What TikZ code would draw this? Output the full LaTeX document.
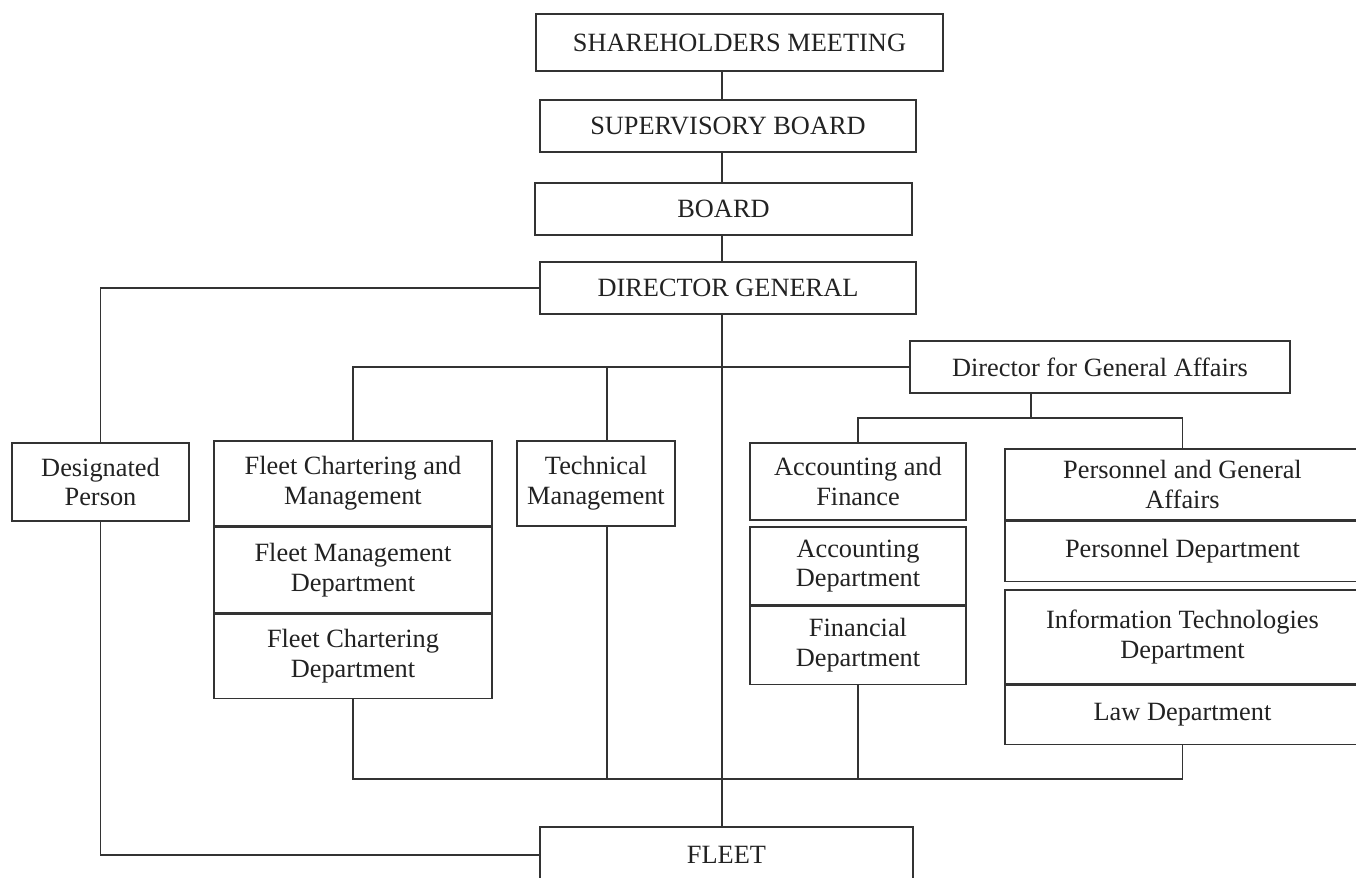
\documentclass[tikz,border=0pt]{standalone}
\usepackage{fontspec}
\setmainfont{Liberation Serif}
\usepackage{tikz}
\usetikzlibrary{positioning, calc}

\definecolor{linegray}{HTML}{333333}
\definecolor{textgray}{HTML}{222222}

\begin{document}
\begin{tikzpicture}[
        x=0.02cm, y=-0.02cm,
        node distance=0pt,
        orgbox/.style={rectangle, draw=linegray, line width=0.8pt, fill=white, text=textgray,
            align=center, inner sep=0pt, font=\fontsize{15}{17}\selectfont},
        link/.style={draw=linegray, line width=0.8pt}
    ]

        \path[use as bounding box, clip] (0,0) rectangle (1356,877);

        % Spine and bus rows
        \coordinate (spine) at (722,0);
        \coordinate (gabus) at (1031,418);
        \coordinate (lowbus) at (0,779);
        \coordinate (techtap) at (607,367);

        % Top of the chart
        \node[orgbox, minimum width=8.14cm, minimum height=1.14cm] (share) at (739.5,42.5) {SHAREHOLDERS MEETING};
        \node[orgbox, minimum width=7.52cm, minimum height=1.04cm] (superv) at (728,126) {SUPERVISORY BOARD};
        \node[orgbox, minimum width=7.54cm, minimum height=1.04cm] (board) at (723.5,209) {BOARD};
        \node[orgbox, minimum width=7.52cm, minimum height=1.04cm] (dg) at (728,288) {DIRECTOR GENERAL};

        % Designated person
        \node[orgbox, minimum width=3.54cm, minimum height=1.56cm] (desig) at (100.5,482) {Designated\\Person};

        % Fleet chartering and management
        \node[orgbox, minimum width=5.56cm, minimum height=1.7cm] (fcm) at (353,483.5) {Fleet Chartering and\\Management};
        \node[orgbox, minimum width=5.56cm, minimum height=1.7cm, below=of fcm] (fmd) {Fleet Management\\Department};
        \node[orgbox, minimum width=5.56cm, minimum height=1.7cm, below=of fmd] (fcd) {Fleet Chartering\\Department};

        % Technical management
        \node[orgbox, minimum width=3.16cm, minimum height=1.7cm] (tech) at (596,483.5) {Technical\\Management};

        % Director for general affairs
        \node[orgbox, minimum width=7.6cm, minimum height=1.04cm] (dga) at (1100,367) {Director for General Affairs};

        % Accounting and finance
        \node[orgbox, minimum width=4.32cm, minimum height=1.54cm] (af) at (858,481.5) {Accounting and\\Finance};
        \node[orgbox, minimum width=4.32cm, minimum height=1.56cm] (accd) at (858,566) {Accounting\\Department};
        \node[orgbox, minimum width=4.32cm, minimum height=1.56cm, below=of accd] (find) {Financial\\Department};

        % Personnel and general affairs
        \node[orgbox, minimum width=7.1cm, minimum height=1.42cm] (pga) at (1182.5,484.5) {Personnel and General\\Affairs};
        \node[orgbox, minimum width=7.1cm, minimum height=1.2cm, below=of pga] (persd) {Personnel Department};
        \node[orgbox, minimum width=7.1cm, minimum height=1.88cm] (itd) at (1182.5,637) {Information Technologies\\Department};
        \node[orgbox, minimum width=7.1cm, minimum height=1.18cm, below=of itd] (lawd) {Law Department};

        % Fleet
        \node[orgbox, minimum width=7.46cm, minimum height=1.12cm] (fleet) at (726.5,855) {FLEET};

        % Links down the spine
        \draw[link] (share.south -| spine) -- (superv.north -| spine);
        \draw[link] (superv.south -| spine) -- (board.north -| spine);
        \draw[link] (board.south -| spine) -- (dg.north -| spine);
        \draw[link] (dg.south -| spine) -- (fleet.north -| spine);

        % Designated person loop
        \draw[link] (dg.west) -| (desig.north);
        \draw[link] (desig.south) |- (fleet.west);

        % Director for general affairs branches
        \draw[link] (dga.west) -| (fcm.north);
        \draw[link] (techtap) -- (techtap |- tech.north);
        \draw[link] (dga.south -| gabus) -- (gabus);
        \draw[link] (af.north) |- (gabus) -| (pga.north);

        % Lower bus
        \draw[link] (fcd.south) |- (lawd.south |- lowbus) -- (lawd.south);
        \draw[link] (tech.south -| techtap) -- (techtap |- lowbus);
        \draw[link] (find.south) -- (find.south |- lowbus);

    \end{tikzpicture}
\end{document}
